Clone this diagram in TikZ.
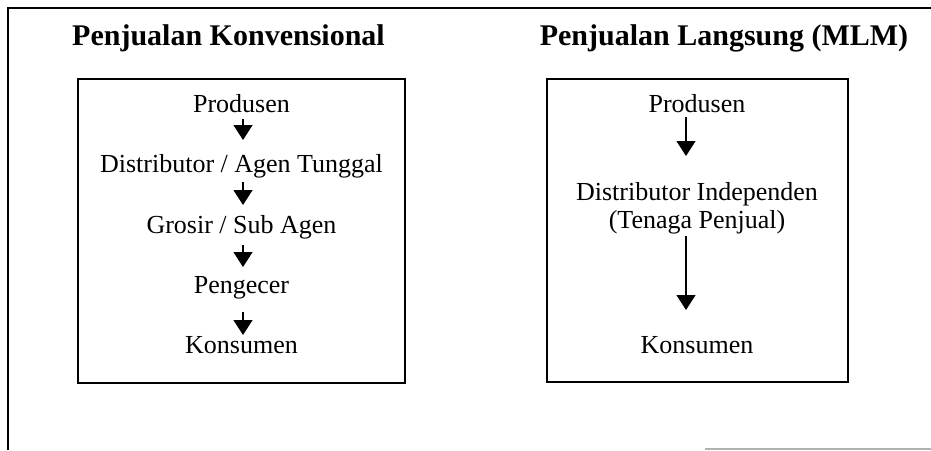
\documentclass[tikz,border=0pt]{standalone}
\usepackage{fontspec}
\setmainfont{Liberation Serif}
\usetikzlibrary{arrows.meta}
\begin{document}
\begin{tikzpicture}[x=1pt,y=-1pt,
  title/.style={font=\fontsize{30}{34}\selectfont\bfseries, anchor=base, inner sep=0pt},
  body/.style={font=\fontsize{26}{30}\selectfont, anchor=base, inner sep=0pt, align=center},
  frame/.style={line width=1.6pt},
  boxline/.style={line width=2pt},
  arr/.style={line width=1.3pt, -{Triangle[width=19pt,length=15pt]}}]
\useasboundingbox (0,0) rectangle (931,450);
% outer frame
\draw[frame] (8,450) -- (8,8) -- (931,8);
\draw[line width=1.2pt, gray!60] (705,449) -- (931,449);
% titles
\node[title] (t1) at (228.5,45) {Penjualan Konvensional};
\node[title] (t2) at (724,45) {Penjualan Langsung (MLM)};
% boxes
\draw[boxline] (78,79) rectangle (405,383);
\draw[boxline] (547,79) rectangle (848,382);
% left chain
\node[body] (l1) at (241.5,112) {Produsen};
\node[body] (l2) at (241.5,172) {Distributor / Agen Tunggal};
\node[body] (l3) at (241.5,233) {Grosir / Sub Agen};
\node[body] (l4) at (241.5,293) {Pengecer};
\node[body] (l5) at (241.5,353) {Konsumen};
\coordinate (a1s) at (243,119); \coordinate (a1e) at (243,140);
\coordinate (a2s) at (243,182); \coordinate (a2e) at (243,205);
\coordinate (a3s) at (243,245); \coordinate (a3e) at (243,267);
\coordinate (a4s) at (243,312); \coordinate (a4e) at (243,335);
\draw[arr] (a1s) -- (a1e);
\draw[arr] (a2s) -- (a2e);
\draw[arr] (a3s) -- (a3e);
\draw[arr] (a4s) -- (a4e);
% right chain
\node[body] (r1) at (697,112) {Produsen};
\node[body] (r2) at (697,200) {Distributor Independen};
\node[body] (r3) at (697,228) {(Tenaga Penjual)};
\node[body] (r4) at (697,353) {Konsumen};
\coordinate (b1s) at (686,117); \coordinate (b1e) at (686,156);
\coordinate (b2s) at (686,236); \coordinate (b2e) at (686,310);
\draw[arr] (b1s) -- (b1e);
\draw[arr] (b2s) -- (b2e);
\end{tikzpicture}
\end{document}
